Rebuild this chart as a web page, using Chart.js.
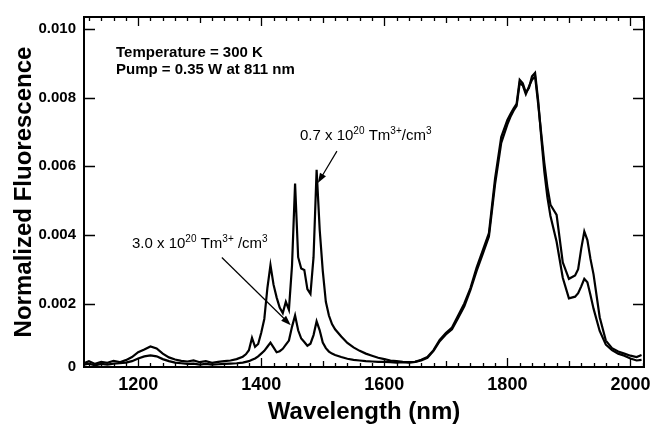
<!DOCTYPE html>
<html>
<head>
<meta charset="utf-8">
<script src="https://cdn.jsdelivr.net/npm/chart.js@4.4.1/dist/chart.umd.min.js"></script>
<style>
  html, body { margin: 0; padding: 0; background: #fff; }
  #wrap { width: 665px; height: 429px; }
</style>
</head>
<body>
<div id="wrap"><canvas id="chart" width="665" height="429"></canvas></div>
<script>
// wavelength samples (nm), shared by both spectra
var wavelengths = [
  1112, 1120, 1130, 1140, 1150, 1160, 1170, 1180, 1190, 1200,
  1210, 1220, 1230, 1240, 1250, 1260, 1270, 1280, 1290, 1300,
  1310, 1320, 1330, 1340, 1350, 1360, 1370, 1375, 1380, 1385,
  1390, 1395, 1400, 1405, 1410, 1415, 1420, 1425, 1430, 1435,
  1440, 1445, 1450, 1455, 1460, 1465, 1470, 1475, 1480, 1485,
  1490, 1495, 1500, 1505, 1510, 1515, 1520, 1530, 1540, 1550,
  1560, 1570, 1580, 1590, 1600, 1610, 1620, 1630, 1640, 1650,
  1660, 1670, 1680, 1690, 1700, 1710, 1720, 1730, 1740, 1750,
  1760, 1770, 1780, 1790, 1800, 1805, 1810, 1815, 1820, 1825,
  1830, 1835, 1840, 1845, 1850, 1855, 1860, 1865, 1870, 1880,
  1890, 1900, 1910, 1915, 1920, 1925, 1930, 1935, 1940, 1950,
  1960, 1970, 1980, 1990, 2000, 2010, 2018
];

// 0.7 x 10^20 Tm3+/cm3
var lowConc = [
  0.00026, 0.00032, 0.00024, 0.00030, 0.00027, 0.00033, 0.00029, 0.00035, 0.00044, 0.00058,
  0.00066, 0.00075, 0.00069, 0.00054, 0.00043, 0.00037, 0.00033, 0.00031, 0.00034, 0.00029,
  0.00032, 0.00027, 0.00030, 0.00032, 0.00034, 0.00038, 0.00045, 0.00052, 0.00064, 0.00100,
  0.00074, 0.00082, 0.00115, 0.00155, 0.00245, 0.00312, 0.00255, 0.00218, 0.00188, 0.00172,
  0.00205, 0.00182, 0.00310, 0.00550, 0.00335, 0.00302, 0.00298, 0.00242, 0.00228, 0.00335,
  0.00590, 0.00415, 0.00295, 0.00205, 0.00165, 0.00140, 0.00125, 0.00104, 0.00085, 0.00072,
  0.00062, 0.00054, 0.00048, 0.00042, 0.00038, 0.00034, 0.00032, 0.00030, 0.00029, 0.00030,
  0.00036, 0.00044, 0.00064, 0.00094, 0.00114, 0.00130, 0.00165, 0.00200, 0.00245, 0.00305,
  0.00355, 0.00405, 0.00565, 0.00685, 0.00735, 0.00752, 0.00768, 0.00782, 0.00852, 0.00842,
  0.00815, 0.00828, 0.00862, 0.00872, 0.00792, 0.00685, 0.00585, 0.00510, 0.00455, 0.00380,
  0.00275, 0.00215, 0.00220, 0.00230, 0.00250, 0.00272, 0.00262, 0.00225, 0.00185, 0.00120,
  0.00080, 0.00064, 0.00054, 0.00048, 0.00040, 0.00034, 0.00036
];

// 3.0 x 10^20 Tm3+/cm3
var highConc = [
  0.00022, 0.00025, 0.00020, 0.00024, 0.00022, 0.00025, 0.00026, 0.00028, 0.00032, 0.00040,
  0.00046, 0.00049, 0.00046, 0.00038, 0.00032, 0.00028, 0.00026, 0.00024, 0.00025, 0.00022,
  0.00024, 0.00022, 0.00023, 0.00024, 0.00025, 0.00026, 0.00028, 0.00030, 0.00032, 0.00036,
  0.00040, 0.00046, 0.00054, 0.00062, 0.00074, 0.00086, 0.00072, 0.00058, 0.00061, 0.00068,
  0.00080, 0.00092, 0.00132, 0.00165, 0.00122, 0.00098, 0.00088, 0.00077, 0.00083, 0.00108,
  0.00148, 0.00122, 0.00086, 0.00070, 0.00060, 0.00054, 0.00050, 0.00044, 0.00039, 0.00036,
  0.00034, 0.00032, 0.00031, 0.00030, 0.00030, 0.00029, 0.00028, 0.00029, 0.00028, 0.00030,
  0.00034, 0.00042, 0.00062, 0.00090, 0.00110, 0.00125, 0.00158, 0.00192, 0.00240, 0.00295,
  0.00345, 0.00395, 0.00548, 0.00668, 0.00722, 0.00744, 0.00762, 0.00776, 0.00842, 0.00836,
  0.00810, 0.00832, 0.00852, 0.00862, 0.00782, 0.00695, 0.00610, 0.00540, 0.00488, 0.00458,
  0.00320, 0.00272, 0.00282, 0.00300, 0.00360, 0.00410, 0.00385, 0.00330, 0.00285, 0.00160,
  0.00092, 0.00070, 0.00060, 0.00054, 0.00048, 0.00044, 0.00050
];

var xTicks = [1200, 1400, 1600, 1800, 2000];
var xTickLabels = ["1200", "1400", "1600", "1800", "2000"];
var yTicks = [0, 0.002, 0.004, 0.006, 0.008, 0.010];
var yTickLabels = ["0", "0.002", "0.004", "0.006", "0.008", "0.010"];

var FONT = '"Liberation Sans", Arial, Helvetica, sans-serif';

function toPoints(xs, ys) {
  return xs.map(function (x, i) { return { x: x, y: ys[i] }; });
}

// text with superscript pieces: [text, isSup]
function drawRich(ctx, x, y, parts, size) {
  parts.forEach(function (p) {
    var s = p[1] ? Math.round(size * 0.66) : size;
    ctx.font = s + "px " + FONT;
    ctx.fillText(p[0], x, p[1] ? y - size * 0.4 : y);
    x += ctx.measureText(p[0]).width;
  });
}

function drawArrow(ctx, x1, y1, x2, y2) {
  var ang = Math.atan2(y2 - y1, x2 - x1);
  var len = 10, half = 3.5;
  ctx.beginPath();
  ctx.moveTo(x1, y1);
  ctx.lineTo(x2 - Math.cos(ang) * len * 0.8, y2 - Math.sin(ang) * len * 0.8);
  ctx.stroke();
  ctx.beginPath();
  ctx.moveTo(x2, y2);
  ctx.lineTo(x2 - Math.cos(ang) * len - Math.sin(ang) * half, y2 - Math.sin(ang) * len + Math.cos(ang) * half);
  ctx.lineTo(x2 - Math.cos(ang) * len + Math.sin(ang) * half, y2 - Math.sin(ang) * len - Math.cos(ang) * half);
  ctx.closePath();
  ctx.fill();
}

var framePlugin = {
  id: "frame",
  afterDraw: function (chart) {
    var ctx = chart.ctx, a = chart.chartArea;
    var xs = chart.scales.x, ys = chart.scales.y;
    ctx.save();
    ctx.strokeStyle = "#000";
    ctx.fillStyle = "#000";

    // frame
    ctx.lineWidth = 2;
    ctx.strokeRect(a.left, a.top, a.right - a.left, a.bottom - a.top);

    // inward ticks, top and bottom
    ctx.lineWidth = 1.3;
    ctx.beginPath();
    for (var w = 1120; w <= 2020; w += 20) {
      var px = Math.round(xs.getPixelForValue(w)) + 0.5;
      var len = w % 200 === 0 ? 9 : (w % 100 === 0 ? 6 : 4);
      ctx.moveTo(px, a.bottom);
      ctx.lineTo(px, a.bottom - len);
      ctx.moveTo(px, a.top);
      ctx.lineTo(px, a.top + len);
    }
    // inward ticks, left and right
    yTicks.forEach(function (v) {
      if (v <= ys.min) return;
      var py = Math.round(ys.getPixelForValue(v)) + 0.5;
      ctx.moveTo(a.left, py);
      ctx.lineTo(a.left + 11, py);
      ctx.moveTo(a.right, py);
      ctx.lineTo(a.right - 11, py);
    });
    ctx.stroke();

    // notes
    ctx.textBaseline = "alphabetic";
    ctx.textAlign = "left";
    ctx.font = "bold 15px " + FONT;
    var nx = xs.getPixelForValue(1164);
    ctx.fillText("Temperature = 300 K", nx, ys.getPixelForValue(0.00919));
    ctx.fillText("Pump = 0.35 W at 811 nm", nx, ys.getPixelForValue(0.00870));

    drawRich(ctx, xs.getPixelForValue(1463), ys.getPixelForValue(0.00676),
      [["0.7 x 10", false], ["20", true], [" Tm", false], ["3+", true], ["/cm", false], ["3", true]], 15);
    drawRich(ctx, xs.getPixelForValue(1190), ys.getPixelForValue(0.00363),
      [["3.0 x 10", false], ["20", true], [" Tm", false], ["3+", true], [" /cm", false], ["3", true]], 15);

    ctx.lineWidth = 1.2;
    drawArrow(ctx, xs.getPixelForValue(1523), ys.getPixelForValue(0.00644),
      xs.getPixelForValue(1492), ys.getPixelForValue(0.00551));
    drawArrow(ctx, xs.getPixelForValue(1336), ys.getPixelForValue(0.00334),
      xs.getPixelForValue(1448), ys.getPixelForValue(0.00137));
    ctx.restore();
  }
};

var ctx = document.getElementById("chart").getContext("2d");
new Chart(ctx, {
  type: "line",
  data: {
    datasets: [
      {
        label: "0.7 x 10^20 Tm3+/cm3",
        data: toPoints(wavelengths, lowConc),
        borderColor: "#000",
        borderWidth: 2.2,
        pointRadius: 0,
        tension: 0,
        fill: false
      },
      {
        label: "3.0 x 10^20 Tm3+/cm3",
        data: toPoints(wavelengths, highConc),
        borderColor: "#000",
        borderWidth: 2.2,
        pointRadius: 0,
        tension: 0,
        fill: false
      }
    ]
  },
  options: {
    responsive: false,
    animation: false,
    devicePixelRatio: 1,
    layout: { padding: { left: 0, right: 21, top: 14, bottom: 0 } },
    plugins: {
      legend: { display: false },
      tooltip: { enabled: false }
    },
    scales: {
      x: {
        type: "linear",
        min: 1112,
        max: 2022,
        afterBuildTicks: function (s) {
          s.ticks = xTicks.map(function (v) { return { value: v }; });
        },
        afterFit: function (s) { s.height = 62; },
        ticks: {
          callback: function (v, i) { return xTickLabels[i]; },
          font: { family: FONT, size: 18, weight: "bold" },
          color: "#000",
          padding: 7,
          maxRotation: 0
        },
        grid: { display: false, drawTicks: false },
        border: { display: false },
        title: {
          display: true,
          text: "Wavelength (nm)",
          color: "#000",
          font: { family: FONT, size: 24, weight: "bold", lineHeight: 1 },
          padding: { top: 0, bottom: 5 }
        }
      },
      y: {
        type: "linear",
        min: 0.00015,
        max: 0.01035,
        afterBuildTicks: function (s) {
          s.ticks = yTicks.map(function (v) { return { value: Math.max(v, s.min) }; });
        },
        afterFit: function (s) { s.width = 84; },
        ticks: {
          callback: function (v, i) { return yTickLabels[i]; },
          font: { family: FONT, size: 15, weight: "bold" },
          color: "#000",
          padding: 8
        },
        grid: { display: false, drawTicks: false },
        border: { display: false },
        title: {
          display: true,
          text: "Normalized Fluorescence",
          color: "#000",
          font: { family: FONT, size: 24, weight: "bold", lineHeight: 1 },
          padding: { top: 12, bottom: 0 }
        }
      }
    }
  },
  plugins: [framePlugin]
});
</script>
</body>
</html>
